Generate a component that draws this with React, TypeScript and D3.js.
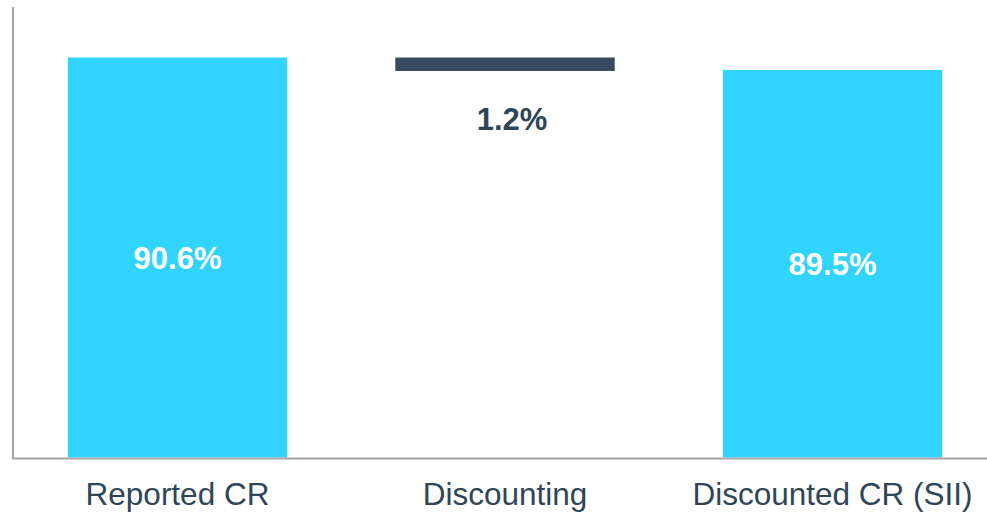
import React from "react";
import * as d3 from "d3";

const categories = ["Reported CR", "Discounting", "Discounted CR (SII)"];
const barValues = [90.6, -1.2, 89.5];
const valueLabels = ["90.6%", "1.2%", "89.5%"];
const barKinds = ["total", "delta", "total"];

const W = 987;
const H = 514;

export default function App() {
  const x = d3
    .scaleBand<string>()
    .domain(categories)
    .range([13.75, 996.25])
    .paddingInner(0.33)
    .paddingOuter(0.165);
  const y = d3.scaleLinear().domain([55, 90.6]).range([457.5, 57.5]);

  // compute waterfall segments
  let running = 0;
  const segs = categories.map((c, i) => {
    const v = barValues[i];
    let y0: number, y1: number;
    if (barKinds[i] === "total") {
      y0 = 55;
      y1 = v;
      running = v;
    } else {
      y0 = running + v;
      y1 = running;
      running = running + v;
    }
    return { c, y0, y1, kind: barKinds[i], label: valueLabels[i] };
  });

  const bw = x.bandwidth();
  return (
    <svg
      width={W}
      height={H}
      style={{ position: "absolute", left: 0, top: 0, fontFamily: "Liberation Sans, Arial, sans-serif" }}
    >
      <rect width={W} height={H} fill="#ffffff" />
      {segs.map((s, i) => {
        const top = y(s.y1);
        const bot = y(s.y0);
        const x0 = x(s.c)!;
        const cx = x0 + bw / 2;
        return (
          <g key={s.c}>
            <rect
              x={x0}
              y={top}
              width={bw}
              height={bot - top}
              fill={s.kind === "total" ? "#31D3FF" : "#36495E"}
            />
            {s.kind === "total" ? (
              <text
                x={cx}
                y={(top + bot) / 2 + 11}
                textAnchor="middle"
                fill="#ffffff"
                fontWeight="bold"
                fontSize={31}
              >
                {s.label}
              </text>
            ) : (
              <text
                x={cx + 7}
                y={bot + 59}
                textAnchor="middle"
                fill="#2F4558"
                fontWeight="bold"
                fontSize={31}
              >
                {s.label}
              </text>
            )}
            <text
              x={cx}
              y={505}
              textAnchor="middle"
              fill="#2F4558"
              fontSize={31.5}
            >
              {s.c}
            </text>
          </g>
        );
      })}
      <line x1={13} x2={13} y1={7} y2={459} stroke="#A6A6A6" strokeWidth={2} />
      <line x1={12} x2={W} y1={458.5} y2={458.5} stroke="#A6A6A6" strokeWidth={2} />
    </svg>
  );
}
